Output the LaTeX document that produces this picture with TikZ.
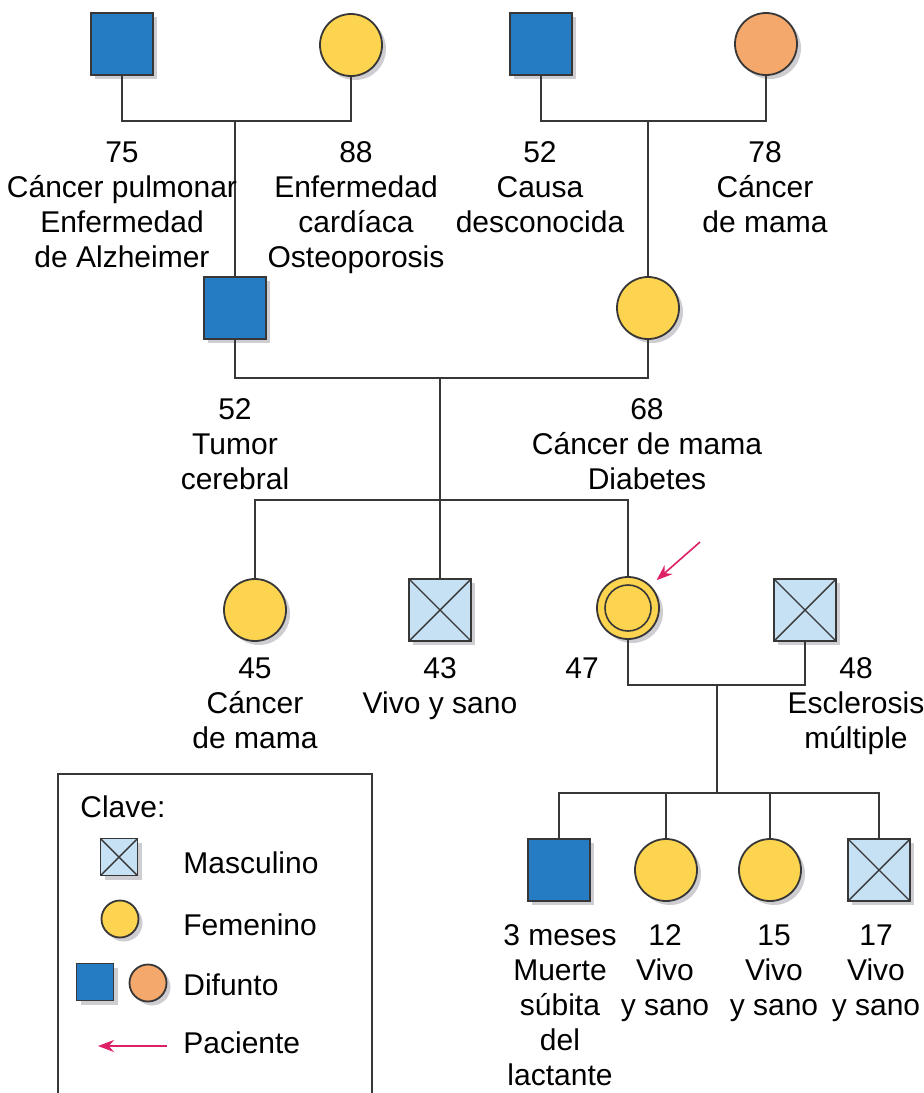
\documentclass[tikz,border=0pt]{standalone}
\usepackage{fontspec}
\setmainfont{Liberation Sans}
\usepackage{tikz}
\usetikzlibrary{shadows}
\usetikzlibrary{arrows.meta}

\definecolor{linegray}{RGB}{55,55,55}
\definecolor{shadowgray}{RGB}{205,205,210}
\definecolor{dblue}{RGB}{38,124,194}
\definecolor{fyellow}{RGB}{252,212,80}
\definecolor{forange}{RGB}{245,168,108}
\definecolor{mlight}{RGB}{198,224,244}
\definecolor{pink}{RGB}{222,32,102}

\tikzset{
    simbolo/.style={draw=linegray, line width=0.9pt, inner sep=0pt, minimum size=31pt,
        drop shadow={shadow xshift=2pt, shadow yshift=-2pt, fill=shadowgray, opacity=1}},
    hombre/.style={simbolo, rectangle, fill=mlight,
        path picture={\draw[line width=0.7pt, linegray]
            (path picture bounding box.north west) -- (path picture bounding box.south east)
            (path picture bounding box.north east) -- (path picture bounding box.south west);}},
    mujer/.style={simbolo, circle, fill=fyellow},
    paciente/.style={mujer,
        path picture={\draw[line width=0.8pt, linegray] (path picture bounding box.center) circle (11.5pt);}},
    difunto/.style={simbolo, rectangle, fill=dblue},
    difunta/.style={simbolo, circle, fill=forange},
    chico/.style={minimum size=18.5pt},
    etiq/.style={align=center, anchor=base, inner sep=0pt, font=\fontsize{15pt}{17.5pt}\selectfont},
    clave/.style={anchor=base west, inner sep=0pt, font=\fontsize{15pt}{17.5pt}\selectfont},
    linea/.style={draw=linegray, line width=1pt},
    flecha/.style={draw=pink, line width=0.8pt, -{Stealth[length=8pt,width=6pt]}}
}

\begin{document}
\begin{tikzpicture}[x=0.5pt, y=-0.5pt]
        \useasboundingbox (0,0) rectangle (924,1093);

        \node[difunto] (A) at (122,44) {};      \node[mujer] (B) at (351,45) {};
        \node[difunto] (C) at (541,44) {};      \node[difunta] (D) at (766,44) {};
        \node[difunto] (E) at (235,308) {};     \node[mujer] (F) at (648,308) {};
        \node[mujer] (G) at (255,610) {};       \node[hombre] (H) at (440,610) {};
        \node[paciente] (P) at (628,608) {};    \node[hombre] (I) at (805,610) {};
        \node[difunto] (J) at (559,870) {};     \node[mujer] (K) at (666,870) {};
        \node[mujer] (L) at (770,870) {};       \node[hombre] (M) at (879,870) {};

        \coordinate (jAB) at (235,121);         \coordinate (jCD) at (648,121);
        \coordinate (jEF) at (440,378);         \coordinate (hEF) at (440,500);
        \coordinate (jPI) at (717,685);         \coordinate (hJ) at (717,793);

        \draw[linea] (A.south) |- (jAB) -| (B.south);
        \draw[linea] (C.south) |- (jCD) -| (D.south);
        \draw[linea] (jAB) -- (E.north);
        \draw[linea] (jCD) -- (F.north);
        \draw[linea] (E.south) |- (jEF) -| (F.south);
        \draw[linea] (jEF) -- (H.north);
        \draw[linea] (G.north) |- (hEF) -| (P.north);
        \draw[linea] (P.south) |- (jPI) -| (I.south);
        \draw[linea] (jPI) -- (hJ);
        \draw[linea] (J.north) |- (hJ) -| (M.north);
        \draw[linea] (K.north) -- (K.north |- hJ);
        \draw[linea] (L.north) -- (L.north |- hJ);

        \coordinate (pA) at (700,542);
        \draw[flecha, shorten >=4pt] (pA) -- (P.45);

        \node[etiq] (tA) at (122,267) {75\\Cáncer pulmonar\\Enfermedad\\de Alzheimer};
        \node[etiq] (tB) at (356,267) {88\\Enfermedad\\cardíaca\\Osteoporosis};
        \node[etiq] (tC) at (540,232) {52\\Causa\\desconocida};
        \node[etiq] (tD) at (765,232) {78\\Cáncer\\de mama};
        \node[etiq] (tE) at (235,489) {52\\Tumor\\cerebral};
        \node[etiq] (tF) at (647,489) {68\\Cáncer de mama\\Diabetes};
        \node[etiq] (tG) at (255,748) {45\\Cáncer\\de mama};
        \node[etiq] (tH) at (440,713) {43\\Vivo y sano};
        \node[etiq] (tP) at (582,678) {47};
        \node[etiq] (tI) at (856,748) {48\\Esclerosis\\múltiple};
        \node[etiq] (tJ) at (560,1085) {3 meses\\Muerte\\súbita\\del\\lactante};
        \node[etiq] (tK) at (665,1015) {12\\Vivo\\y sano};
        \node[etiq] (tL) at (774,1015) {15\\Vivo\\y sano};
        \node[etiq] (tM) at (876,1015) {17\\Vivo\\y sano};

        \draw[linea] (58,1093) -- (58,774) -- (372,774) -- (372,1093);
        \node[clave] (kT) at (80,817) {Clave:};
        \node[hombre, chico] (kM) at (119,857) {};      \node[clave] (kMt) at (183,873) {Masculino};
        \node[mujer, chico] (kF) at (120,919) {};       \node[clave] (kFt) at (183,935) {Femenino};
        \node[difunto, chico] (kD) at (95,982) {};
        \node[difunta, chico] (kDF) at (148,983) {};    \node[clave] (kDt) at (183,995) {Difunto};
        \coordinate (kA1) at (167,1046);                \coordinate (kA2) at (98,1046);
        \draw[flecha] (kA1) -- (kA2);                    \node[clave] (kPt) at (183,1053) {Paciente};
\end{tikzpicture}
\end{document}
